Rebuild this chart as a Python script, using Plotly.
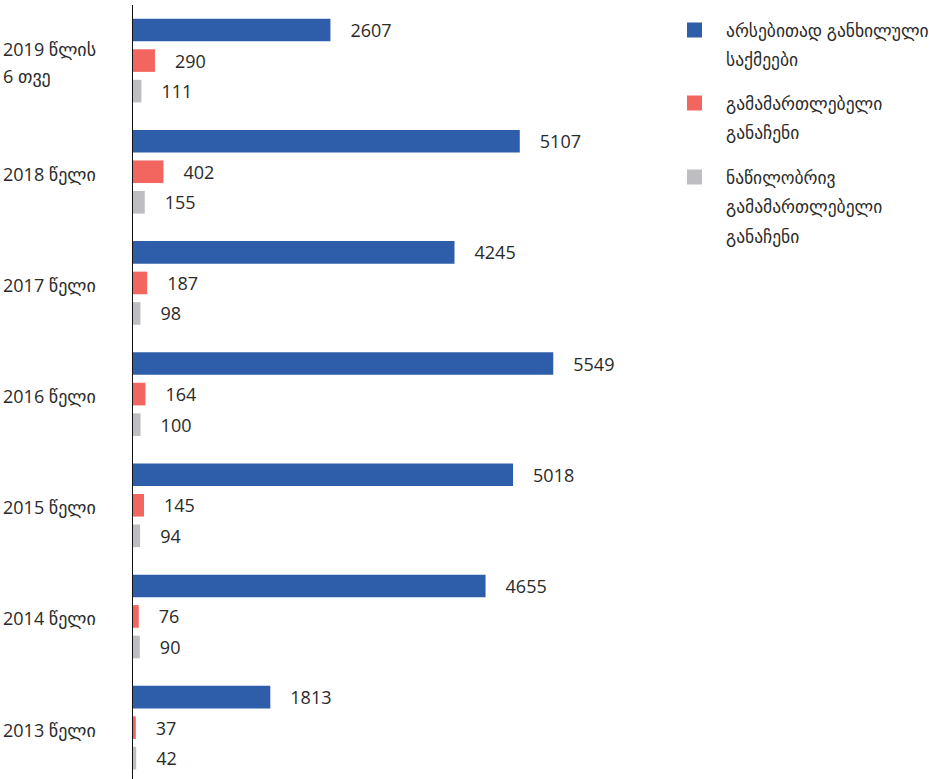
import plotly.graph_objects as go

categories = ["2019 წლის<br>6 თვე", "2018 წელი", "2017 წელი", "2016 წელი",
              "2015 წელი", "2014 წელი", "2013 წელი"]
series_names = ["არსებითად განხილული<br>საქმეები",
                "გამამართლებელი<br>განაჩენი",
                "ნაწილობრივ<br>გამამართლებელი<br>განაჩენი"]
considered = [2607, 5107, 4245, 5549, 5018, 4655, 1813]
acquittals = [290, 402, 187, 164, 145, 76, 37]
partial = [111, 155, 98, 100, 94, 90, 42]
colors = ["#2E5EAA", "#F2665F", "#BDBDC2"]

FONT = "Open Sans, DejaVu Sans, sans-serif"
TXT = "#2a2a2a"
W, H = 929, 779
L, R, T, B = 133, 281, 5, 0
PW, PH = W - L - R, H - T - B
PAD = "\u00a0" * 3 + "\u2009"

fig = go.Figure()
for name, vals, col in zip(series_names, [considered, acquittals, partial], colors):
    fig.add_trace(go.Bar(
        y=categories, x=vals, orientation="h", name=name,
        marker=dict(color=col, line=dict(width=0)),
        text=[PAD + str(v) for v in vals], textposition="outside",
        constraintext="none", cliponaxis=False,
        textfont=dict(family=FONT, size=18, color=TXT),
        showlegend=False,
    ))

annotations = []
# category labels, left-aligned
for cat in categories:
    lines = cat.split("<br>")
    n = len(lines)
    for i, ln in enumerate(lines):
        annotations.append(dict(
            xref="paper", x=0, xshift=-(L - 1), xanchor="left",
            yref="y", y=cat, yshift=(n - 1) * 13.5 - i * 27 - 2,
            text=ln, showarrow=False, align="left",
            font=dict(family=FONT, size=18, color=TXT)))

# manual legend
shapes = []
def px2paper(px, py):
    return (px - L) / PW, 1 - (py - T) / PH

item_tops = [30, 103, 177]
for name, col, top in zip(series_names, colors, item_tops):
    x0, y0 = px2paper(687, top - 7.5)
    x1, y1 = px2paper(702, top + 7.5)
    shapes.append(dict(type="rect", xref="paper", yref="paper",
                       x0=x0, x1=x1, y0=y1, y1=y0, fillcolor=col,
                       line=dict(width=0)))
    for i, ln in enumerate(name.split("<br>")):
        ax, ay = px2paper(724, top + i * 29.5)
        annotations.append(dict(
            xref="paper", yref="paper", x=ax, y=ay, xanchor="left",
            yanchor="middle", text=ln, showarrow=False,
            font=dict(family=FONT, size=17.5, color=TXT)))

fig.update_layout(
    width=W, height=H, margin=dict(l=L, r=R, t=T, b=B),
    paper_bgcolor="white", plot_bgcolor="white",
    barmode="group", bargap=0.176, bargroupgap=0.26,
    showlegend=False,
    xaxis=dict(range=[0, 6800], showgrid=False, zeroline=False,
               showticklabels=False, showline=False),
    yaxis=dict(type="category", categoryorder="array", categoryarray=categories,
               range=[6.462, -0.5], showgrid=False, zeroline=False,
               showticklabels=False, showline=True, linecolor="#111",
               linewidth=1, ticks=""),
    annotations=annotations, shapes=shapes,
)
fig.write_html("out.html")
